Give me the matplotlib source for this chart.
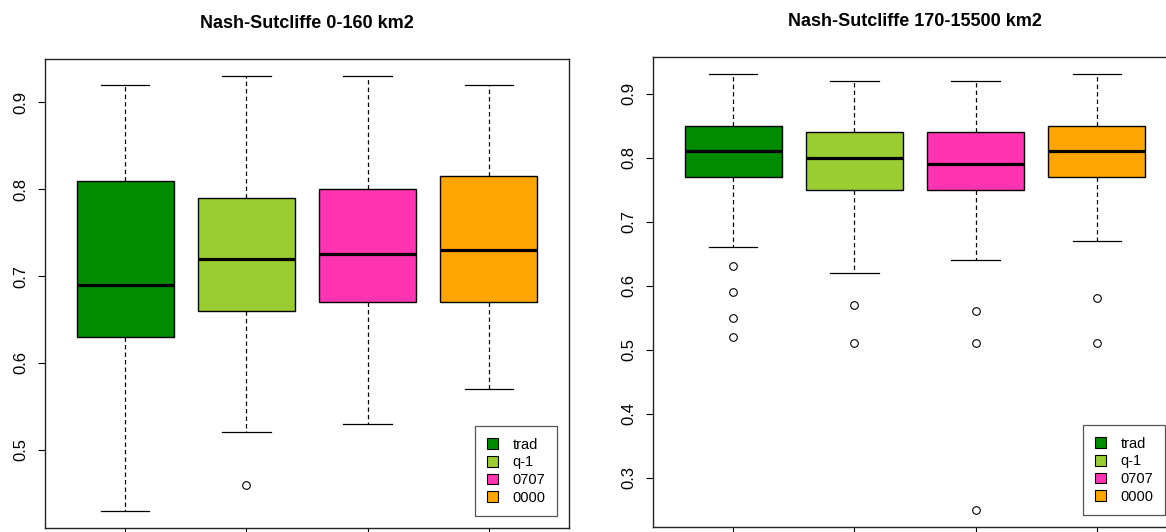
import matplotlib
matplotlib.use("Agg")
import matplotlib.pyplot as plt
from matplotlib.patches import Patch

plt.rcParams['font.family'] = ['Liberation Sans', 'DejaVu Sans']

# model variants and their box colours
models = ["trad", "q-1", "0707", "0000"]
colors = ["#008B00", "#9ACD32", "#FF34B3", "#FFA500"]

# catchments 0-160 km2: whisker low, q1, median, q3, whisker high, outliers
small_low = [0.43, 0.52, 0.53, 0.57]
small_q1 = [0.63, 0.66, 0.67, 0.67]
small_med = [0.69, 0.72, 0.725, 0.73]
small_q3 = [0.81, 0.79, 0.80, 0.815]
small_high = [0.92, 0.93, 0.93, 0.92]
small_out = [[], [0.46], [], []]

# catchments 170-15500 km2
large_low = [0.66, 0.62, 0.64, 0.67]
large_q1 = [0.77, 0.75, 0.75, 0.77]
large_med = [0.81, 0.80, 0.79, 0.81]
large_q3 = [0.85, 0.84, 0.84, 0.85]
large_high = [0.93, 0.92, 0.92, 0.93]
large_out = [[0.63, 0.59, 0.55, 0.52], [0.57, 0.51], [0.56, 0.51, 0.25], [0.58, 0.51]]

small_ticks = [0.5, 0.6, 0.7, 0.8, 0.9]
large_ticks = [0.3, 0.4, 0.5, 0.6, 0.7, 0.8, 0.9]


def make_stats(low, q1, med, q3, high, out):
    stats = []
    for i in range(len(models)):
        stats.append(dict(whislo=low[i], q1=q1[i], med=med[i], q3=q3[i],
                          whishi=high[i], fliers=out[i], label=models[i]))
    return stats


def draw_panel(ax, stats, ticks, title):
    bp = ax.bxp(stats, positions=range(1, len(stats) + 1), widths=0.8,
                patch_artist=True, showfliers=True,
                boxprops=dict(edgecolor="black", linewidth=1.0),
                medianprops=dict(color="black", linewidth=2.3),
                whiskerprops=dict(color="black", linewidth=0.9, linestyle=(0, (3.5, 2.5))),
                capprops=dict(color="black", linewidth=0.9),
                capwidths=0.4,
                flierprops=dict(marker="o", markerfacecolor="none",
                                markeredgecolor="black", markersize=5.5,
                                markeredgewidth=0.8))
    for patch, c in zip(bp["boxes"], colors):
        patch.set_facecolor(c)

    # R style axis extension of 4%
    lo = min(min(s["whislo"], *(s["fliers"] or [s["whislo"]])) for s in stats)
    hi = max(s["whishi"] for s in stats)
    pad = (hi - lo) * 0.04
    ax.set_ylim(lo - pad, hi + pad)
    ax.set_xlim(0.5 - 0.16, len(stats) + 0.5 + 0.16)

    ax.set_yticks(ticks)
    ax.set_yticklabels([f"{t:.1f}" for t in ticks], rotation=90, va="center")
    ax.set_xticks(range(1, len(stats) + 1))
    ax.set_xticklabels([])
    ax.tick_params(direction="out", length=5, width=0.8, labelsize=12, pad=7)
    for sp in ax.spines.values():
        sp.set_linewidth(1.0)
        sp.set_color("#222222")

    ax.set_title(title, fontsize=13, fontweight="bold", pad=22)

    handles = [Patch(facecolor=c, edgecolor="black", linewidth=0.8) for c in colors]
    leg = ax.legend(handles, models, loc="lower right",
                    bbox_to_anchor=(0.977, 0.025), borderaxespad=0,
                    fancybox=False, framealpha=1, edgecolor="#555555",
                    fontsize=10.5, handlelength=0.75, handleheight=0.75,
                    handletextpad=1.0, labelspacing=0.25, borderpad=0.8)
    leg.get_frame().set_linewidth(0.9)


fig = plt.figure(figsize=(11.66, 5.32), dpi=100)
ax1 = fig.add_axes([45 / 1166, 4 / 532, 524 / 1166, 469 / 532])
ax2 = fig.add_axes([653 / 1166, 5 / 532, 524 / 1166, 470 / 532])

draw_panel(ax1, make_stats(small_low, small_q1, small_med, small_q3, small_high, small_out),
           small_ticks, "Nash-Sutcliffe 0-160 km2")
draw_panel(ax2, make_stats(large_low, large_q1, large_med, large_q3, large_high, large_out),
           large_ticks, "Nash-Sutcliffe 170-15500 km2")

fig.savefig("out.png", dpi=100)
